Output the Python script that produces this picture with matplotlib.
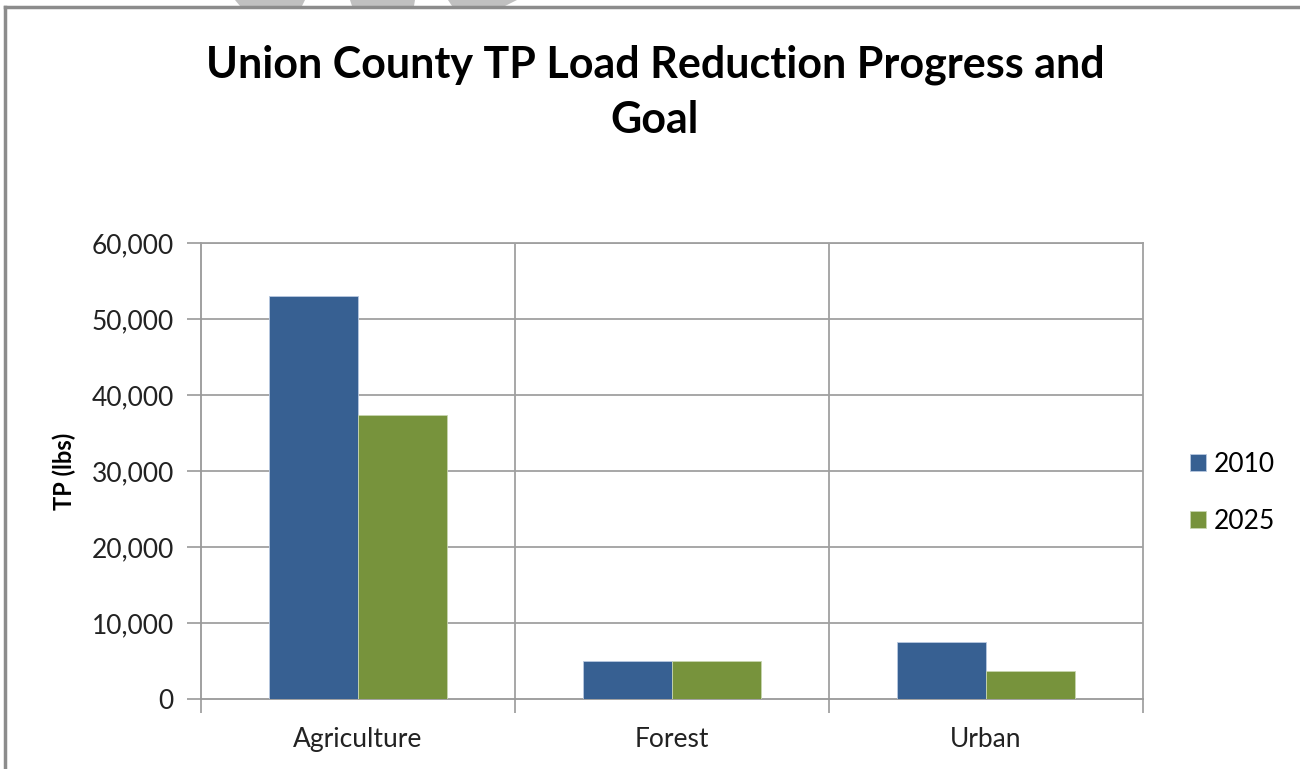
import matplotlib
matplotlib.use("Agg")
import matplotlib.pyplot as plt
from matplotlib.patches import Polygon
from matplotlib.lines import Line2D
import numpy as np

categories = ["Agriculture", "Forest", "Urban"]
series_names = ["2010", "2025"]
values_2010 = [53000, 5000, 7500]
values_2025 = [37400, 5000, 3700]
y_ticks = [0, 10000, 20000, 30000, 40000, 50000, 60000]
colors = ["#376092", "#77933C"]

plt.rcParams['font.family'] = ['Lato', 'DejaVu Sans']

fig = plt.figure(figsize=(13, 7.69), dpi=100)
W, H = 1300, 769

# figure border (top and left)
fig.add_artist(Line2D([5 / W, 1], [1 - 7 / H, 1 - 7 / H], color="#8c8c8c", lw=2.5, transform=fig.transFigure))
fig.add_artist(Line2D([5 / W, 5 / W], [0, 1 - 7 / H], color="#8c8c8c", lw=2.5, transform=fig.transFigure))

# partial shapes at the top edge
def px(x, y):
    return (x / W, 1 - y / H)

for pts in [[(235, 0), (305, 0), (302, 6), (240, 6)],
            [(350, 0), (415, 0), (414, 6), (352, 6)],
            [(448, 0), (517, 0), (505, 6), (452, 6)]]:
    fig.add_artist(Polygon([px(*p) for p in pts], closed=True, facecolor="#c0c0c0",
                           edgecolor="none", transform=fig.transFigure))

ax = fig.add_axes([201 / W, 1 - 699 / H, (1143 - 201) / W, (699 - 243) / H])

x = np.arange(len(categories))
bw = 0.283
ax.bar(x - bw / 2, values_2010, width=bw, color=colors[0], label=series_names[0],
       edgecolor="#b9c9e0", linewidth=0.6, zorder=3)
ax.bar(x + bw / 2, values_2025, width=bw, color=colors[1], label=series_names[1],
       edgecolor="#c8d6b0", linewidth=0.6, zorder=3)

ax.set_xlim(-0.5, len(categories) - 0.5)
ax.set_ylim(0, 60000)
ax.set_yticks(y_ticks)
ax.set_yticklabels([f"{v:,}" for v in y_ticks], fontsize=19, color="#222222")
ax.set_xticks(x)
ax.set_xticklabels(categories, fontsize=19, color="#222222")
ax.tick_params(axis="x", length=0, pad=20)
ax.tick_params(axis="y", length=10, width=1.2, color="#999999", pad=9.5)

# grid
for v in y_ticks[1:]:
    ax.axhline(v, color="#a0a0a0", lw=1.3, zorder=1)
for b in np.arange(0.5, len(categories) - 0.5, 1.0):
    ax.axvline(b, color="#a0a0a0", lw=1.3, zorder=1)
# minor ticks below x axis at category boundaries
ax.set_xticks(np.arange(-0.5, len(categories), 1.0), minor=True)
ax.tick_params(axis="x", which="minor", length=10, width=1.2, color="#999999")

for s in ["top", "right"]:
    ax.spines[s].set_color("#a0a0a0")
    ax.spines[s].set_linewidth(1.3)
for s in ["left", "bottom"]:
    ax.spines[s].set_color("#999999")
    ax.spines[s].set_linewidth(1.3)

ax.set_ylabel("TP (lbs)", fontsize=17, fontweight="bold", labelpad=11)

fig.text(655 / W, 1 - 92 / H, "Union County TP Load Reduction Progress and\nGoal",
         ha="center", va="center", fontsize=31, fontweight="bold", linespacing=1.45)

leg = fig.legend(loc="center left", bbox_to_anchor=(1166 / W, 1 - 493 / H), frameon=False,
                 fontsize=19, handlelength=0.6, handleheight=0.6, handletextpad=0.3,
                 labelspacing=1.2)

fig.savefig("out.png", dpi=100, facecolor="white")
